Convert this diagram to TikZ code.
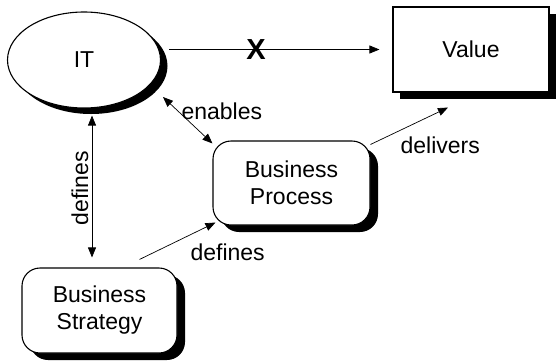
\documentclass[tikz,border=0pt]{standalone}
\usepackage{fontspec}
\setmainfont{Liberation Sans}
\usetikzlibrary{shapes.geometric,shadows,arrows.meta}

\begin{document}
\begin{tikzpicture}[x=1pt,y=-1pt,
        font=\fontsize{23}{27}\selectfont,
        shade/.style={drop shadow={shadow xshift=8pt,shadow yshift=-7pt,fill=black,opacity=1}},
        block/.style={draw,line width=1.1pt,fill=white,rounded corners=18pt,minimum width=156pt,minimum height=85pt,align=center,shade},
        conn/.style={line width=0.7pt,-{Triangle[length=10pt,width=8pt]}},
        dconn/.style={line width=0.7pt,{Triangle[length=10pt,width=8pt]}-{Triangle[length=10pt,width=8pt]}}]
        \useasboundingbox (0,0) rectangle (556,362);

        % The four boxes
        \node[ellipse,draw,line width=1.1pt,fill=white,minimum width=153pt,minimum height=96pt,inner sep=0pt,
            drop shadow={shadow xshift=7pt,shadow yshift=-6pt,fill=black,opacity=1}] (it) at (84,60) {IT};
        \node[draw,line width=1.1pt,fill=white,minimum width=156pt,minimum height=85pt,
            drop shadow={shadow xshift=7pt,shadow yshift=-7pt,fill=black,opacity=1}] (val) at (471,49.5) {Value};
        \node[block,minimum width=157pt,minimum height=84pt] (proc) at (291.5,183) {Business\\Process};
        \node[block,minimum width=155pt] (strat) at (99.5,310.5) {Business\\Strategy};

        % The links between them
        \draw[conn,shorten <=8pt,shorten >=13pt] (it.east |- val.west) -- (val.west)
            node[pos=.41,font=\fontsize{29}{31}\selectfont\bfseries] {X};
        \draw[dconn] ([xshift=79pt,yshift=-37pt]it.center) -- ([yshift=-3pt]proc.north west)
            node[pos=.3,right] {enables};
        \draw[dconn,shorten <=7pt,shorten >=10pt] ([xshift=8pt]it.south) -- ([xshift=-7.5pt]strat.north)
            node[midway,rotate=90,above] {defines};
        \draw[conn] ([xshift=40pt,yshift=8pt]strat.north) -- ([xshift=3pt,yshift=3pt]proc.south west)
            node[pos=.65,below right,xshift=-2pt,yshift=-5pt] {defines};
        \draw[conn] ([yshift=-4pt]proc.north east) -- ([xshift=-23pt,yshift=-15pt]val.south)
            node[pos=.38,below right,xshift=-3pt,yshift=-3pt] {delivers};
\end{tikzpicture}
\end{document}
